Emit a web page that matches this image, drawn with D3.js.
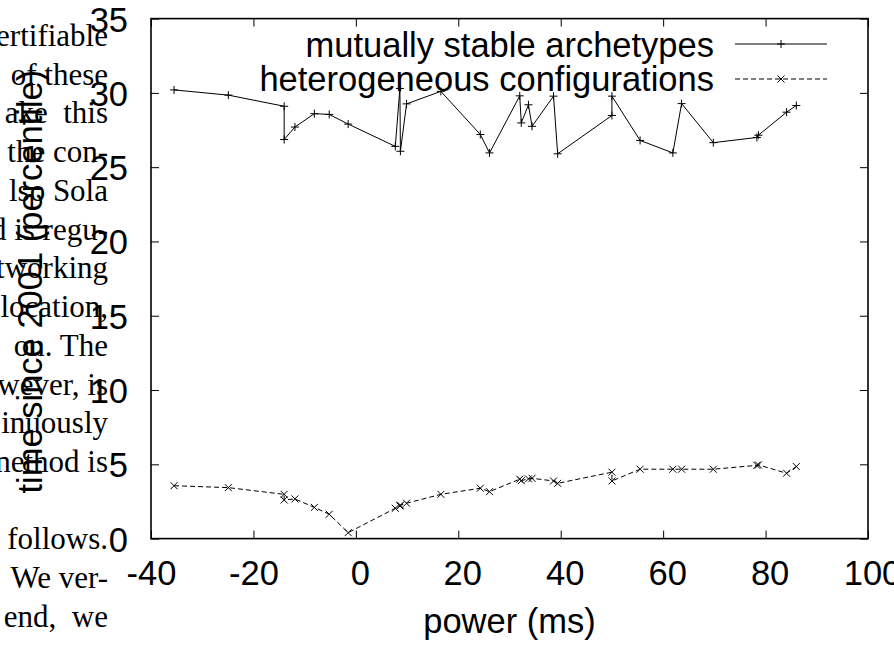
<!DOCTYPE html>
<html>
<head>
<meta charset="utf-8">
<script src="https://cdn.jsdelivr.net/npm/d3@7"></script>
<style>
  html, body { margin: 0; padding: 0; background: #fff; overflow: hidden; }
  svg { display: block; }
</style>
</head>
<body>
<script>
// ---- data ----
const power = [-35.5, -24.9, -14.0, -14.0, -11.9, -8.1, -5.2, -1.5, 7.7, 8.6, 8.7, 9.9, 16.6,
  24.3, 26.1, 32.0, 32.3, 33.7, 34.4, 38.6, 39.4, 50.0, 50.0, 55.5, 61.9, 63.6, 69.8,
  78.3, 78.6, 84.1, 86.0];
const archetypes = [30.2, 29.85, 29.1, 26.86, 27.7, 28.6, 28.55, 27.9, 26.4, 30.3, 26.07, 29.26, 30.1,
  27.2, 25.96, 29.8, 27.98, 29.2, 27.75, 29.78, 25.9, 28.48, 29.78, 26.8, 25.96, 29.28, 26.65,
  27.0, 27.15, 28.7, 29.15];
const heterogeneous = [3.56, 3.43, 2.98, 2.6, 2.67, 2.1, 1.64, 0.4, 2.04, 2.2, 2.25, 2.38, 2.98,
  3.39, 3.16, 4.0, 3.9, 4.02, 4.06, 3.88, 3.72, 4.47, 3.88, 4.67, 4.67, 4.67, 4.67,
  4.93, 4.96, 4.4, 4.85];
const seriesNames = ["mutually stable archetypes", "heterogeneous configurations"];
const xTicks = [-40, -20, 0, 20, 40, 60, 80, 100];
const yTicks = [0, 5, 10, 15, 20, 25, 30, 35];
const xTitle = "power (ms)";
const yTitle = "time since 2001 (percentile)";
const pageLines = ["ertifiable", "of these", "ake  this", "the con-", "lso Sola", "d is regu-",
  "tworking", "location,", "on. The", "wever, is", "inuously", "nethod is", "",
  "follows.", "We ver-", "end,  we"];

// ---- layout ----
const W = 894, H = 646;
const svg = d3.select("body").append("svg").attr("width", W).attr("height", H);
const sans = "'Liberation Sans', Arial, Helvetica, sans-serif";
const fs = 34.5;

// background page text (serif column fragment)
svg.append("g")
  .attr("font-family", "'Liberation Serif', 'Times New Roman', serif")
  .attr("font-size", 31)
  .attr("fill", "#000")
  .selectAll("text").data(pageLines).join("text")
  .attr("x", 108).attr("y", (d, i) => 46 + i * 38.73)
  .attr("text-anchor", "end")
  .style("white-space", "pre")
  .text(d => d);

const x = d3.scaleLinear().domain([-40, 100]).range([151, 868]);
const y = d3.scaleLinear().domain([0, 35]).range([538.6, 18.6]);

const fmt = d => String(d);

function styleAxis(g) {
  g.select(".domain").remove();
  g.selectAll(".tick line").attr("stroke", "#000").attr("stroke-width", 1);
  g.selectAll("text").attr("font-family", sans).attr("font-size", fs).attr("fill", "#000");
}

// bottom
svg.append("g").attr("transform", `translate(0,${y(0)})`)
  .call(d3.axisBottom(x).tickValues(xTicks).tickSize(-8).tickPadding(22).tickFormat(fmt))
  .call(styleAxis)
  .call(g => g.selectAll("text").attr("dx", d => d >= 0 ? 4 : 0));
// top
svg.append("g").attr("transform", `translate(0,${y(35)})`)
  .call(d3.axisTop(x).tickValues(xTicks).tickSize(-8).tickFormat(""))
  .call(styleAxis);
// left
svg.append("g").attr("transform", `translate(${x(-40)},0)`)
  .call(d3.axisLeft(y).tickValues(yTicks).tickSize(-8).tickPadding(23).tickFormat(fmt))
  .call(styleAxis)
  .call(g => g.selectAll("text").attr("dy", "0.36em"));
// right
svg.append("g").attr("transform", `translate(${x(100)},0)`)
  .call(d3.axisRight(y).tickValues(yTicks).tickSize(-8).tickFormat(""))
  .call(styleAxis);

// frame
svg.append("rect")
  .attr("x", x(-40)).attr("y", y(35))
  .attr("width", x(100) - x(-40)).attr("height", y(0) - y(35))
  .attr("fill", "none").attr("stroke", "#000").attr("stroke-width", 1.6);

// titles
svg.append("text").attr("x", (x(-40) + x(100)) / 2).attr("y", 633)
  .attr("text-anchor", "middle").attr("font-family", sans).attr("font-size", fs)
  .text(xTitle);
svg.append("text").attr("transform", `translate(42,${(y(0) + y(35)) / 2 + 3}) rotate(-90)`)
  .attr("text-anchor", "middle").attr("font-family", sans).attr("font-size", fs)
  .text(yTitle);

// series
const plusPath = "M-4,0H4M0,-4V4";
const crossPath = "M-3.5,-3.5L3.5,3.5M-3.5,3.5L3.5,-3.5";
const series = [
  { name: seriesNames[0], values: archetypes, dash: null, marker: plusPath },
  { name: seriesNames[1], values: heterogeneous, dash: "5,3", marker: crossPath }
];

const line = d3.line().x(d => x(d[0])).y(d => y(d[1]));

series.forEach((s, si) => {
  const pts = power.map((p, i) => [p, s.values[i]]);
  svg.append("path").datum(pts)
    .attr("d", line).attr("fill", "none").attr("stroke", "#000").attr("stroke-width", 1)
    .attr("stroke-dasharray", s.dash);
  svg.append("g").selectAll("path").data(pts).join("path")
    .attr("transform", d => `translate(${x(d[0])},${y(d[1])})`)
    .attr("d", s.marker).attr("stroke", "#000").attr("stroke-width", 1).attr("fill", "none");

  // legend
  const ly = 44 + si * 35;
  const lg = svg.append("g");
  lg.append("text").attr("x", 714).attr("y", 57 + si * 34)
    .attr("text-anchor", "end").attr("font-family", sans).attr("font-size", fs)
    .text(s.name);
  lg.append("line").attr("x1", 735).attr("x2", 827).attr("y1", ly).attr("y2", ly)
    .attr("stroke", "#000").attr("stroke-width", 1).attr("stroke-dasharray", s.dash);
  lg.append("path").attr("transform", `translate(781,${ly})`).attr("d", s.marker)
    .attr("stroke", "#000").attr("stroke-width", 1).attr("fill", "none");
});
</script>
</body>
</html>
